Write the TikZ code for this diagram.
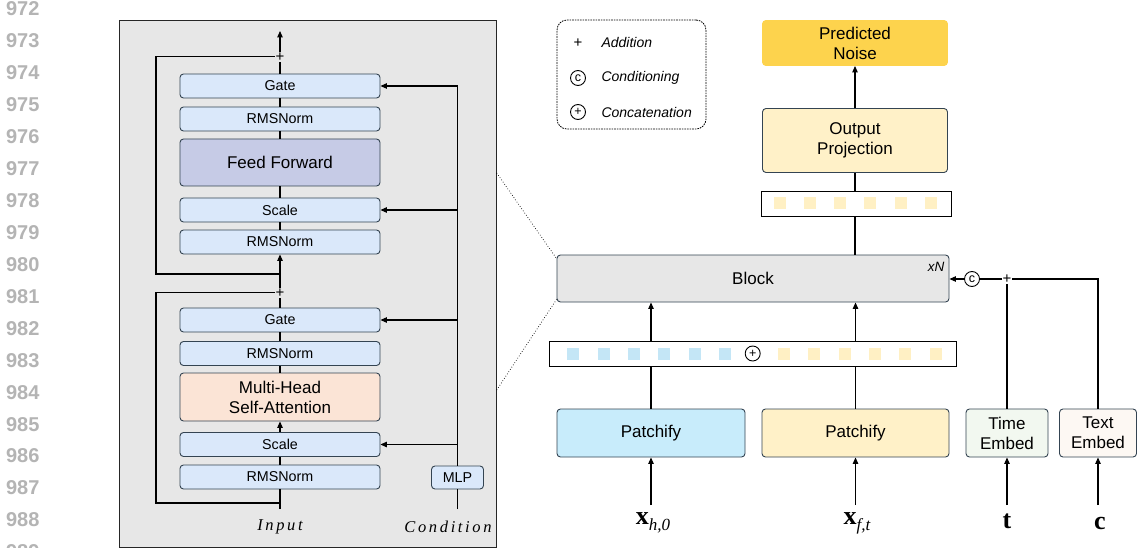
\documentclass[tikz,border=0pt]{standalone}
\usepackage{fontspec}
\setmainfont{Liberation Sans}
\newfontfamily\serifsp[LetterSpace=16]{Liberation Serif}
\newfontfamily\lsr{Liberation Serif}
\usetikzlibrary{arrows.meta}
\definecolor{bord}{RGB}{52,68,82}
\definecolor{lblue}{RGB}{218,232,250}
\definecolor{ffc}{RGB}{198,203,230}
\definecolor{peach}{RGB}{251,228,214}
\definecolor{gold}{RGB}{253,211,77}
\definecolor{ylw}{RGB}{255,241,200}
\definecolor{cyanl}{RGB}{200,236,251}
\definecolor{grn}{RGB}{242,248,240}
\definecolor{crm}{RGB}{253,248,243}
\definecolor{panelc}{RGB}{231,231,231}
\definecolor{sqb}{RGB}{196,230,246}
\definecolor{sqy}{RGB}{255,240,196}
\definecolor{lnum}{RGB}{180,180,180}
\newcommand{\vlab}[2]{{\lsr\bfseries\fontsize{26}{26}\selectfont #1}\ifx&#2&\else{\lsr\itshape\fontsize{17}{17}\selectfont\raisebox{-6pt}{#2}}\fi}
\tikzset{
  box/.style={draw=bord,line width=0.9pt,rounded corners=3.5pt,inner sep=0pt,align=center},
  sm/.style={box,fill=lblue,minimum width=200pt,minimum height=24pt,font=\fontsize{14.3}{16}\selectfont},
  big/.style={box,font=\fontsize{17}{20}\selectfont},
  ln/.style={line width=1.1pt},
  arr/.style={ln,-{Triangle[length=6.5pt,width=5.5pt]}},
  plusn/.style={inner sep=0.6pt,font=\fontsize{15}{15}\selectfont},
  sq/.style={minimum size=12pt,inner sep=0pt,draw=none},
  circ/.style={circle,draw,line width=0.9pt,minimum size=15pt,inner sep=0pt,font=\fontsize{12.5}{12.5}\selectfont},
  lab/.style={inner sep=0pt},
  io/.style={font=\serifsp\itshape\fontsize{16.5}{16.5}\selectfont},
  leg/.style={anchor=west,font=\itshape\fontsize{14}{16}\selectfont},
  dots/.style={line width=0.7pt,dotted}
}
\begin{document}
\begin{tikzpicture}[x=1pt,y=-1pt]
\clip (0,0) rectangle (1137,548);
\fill[white] (0,0) rectangle (1137,548);
% line numbers
\foreach \n in {972,...,989}{
  \pgfmathsetmacro{\yy}{41+(\n-973)*31.93}
  \node[anchor=east,text=lnum,font=\bfseries\fontsize{20}{20}\selectfont] (ln\n) at (43,\yy) {\n};
}
% ---------------- left panel
\node[draw=black!85,fill=panelc,line width=0.8pt,minimum width=377pt,minimum height=527pt,inner sep=0pt] (panel) at (307.5,283.5) {};
\node[sm] (gate1) at (280,86) {Gate};
\node[sm] (rms1a) at (280,119) {RMSNorm};
\node[big,fill=ffc,minimum width=200pt,minimum height=47pt] (ff) at (280,162.5) {Feed Forward};
\node[sm] (scale1) at (280,210) {Scale};
\node[sm] (rms1b) at (280,242) {RMSNorm};
\node[plusn] (plus1) at (280,56.7) {+};
\coordinate (out) at (280,31);
\node[sm] (gate2) at (280,320) {Gate};
\node[sm] (rms2a) at (280,353.5) {RMSNorm};
\node[big,fill=peach,minimum width=200pt,minimum height=48pt] (mhsa) at (280,397) {Multi-Head\\Self-Attention};
\node[sm] (scale2) at (280,444.5) {Scale};
\node[sm] (rms2b) at (280,477) {RMSNorm};
\node[plusn] (plus2) at (280,292.7) {+};
\coordinate (inp) at (280,509);
\node[sm,minimum width=52pt,minimum height=23pt] (mlp) at (457.5,477.5) {MLP};
\coordinate (cnd) at (457.5,509);
\node[io] (inputlab) at (280,527) {Input};
\node[io] (condlab) at (448,527) {Condition};
% main path
\draw[ln] (inp) -- (rms2b.south);
\draw[ln] (rms2b) -- (scale2);
\draw[arr] (scale2) -- (mhsa);
\draw[ln] (mhsa) -- (rms2a);
\draw[ln] (rms2a) -- (gate2);
\draw[ln] (gate2) -- (plus2);
\draw[arr] (plus2) -- (rms1b);
\draw[ln] (rms1b) -- (scale1);
\draw[ln] (scale1) -- (ff);
\draw[ln] (ff) -- (rms1a);
\draw[ln] (rms1a) -- (gate1);
\draw[ln] (gate1) -- (plus1);
\draw[arr] (plus1) -- (out);
% skip connections
\coordinate (j2) at (280,503);
\coordinate (s2) at (156,503);
\draw[ln] (j2) -- (s2) |- (plus2);
\coordinate (j1) at (280,274);
\coordinate (s1) at (156,274);
\draw[ln] (j1) -- (s1) |- (plus1);
% condition
\coordinate (ctop) at (457.5,86);
\draw[ln] (cnd) -- (mlp.south);
\draw[ln] (mlp.north) -- (ctop);
\draw[arr] (ctop) -- (gate1.east);
\draw[arr] (scale1.east -| ctop) -- (scale1.east);
\draw[arr] (gate2.east -| ctop) -- (gate2.east);
\draw[arr] (scale2.east -| ctop) -- (scale2.east);
% ---------------- legend
\node[draw,line width=0.8pt,dash pattern=on 1.6pt off 1pt,rounded corners=10pt,minimum width=149pt,minimum height=109pt,inner sep=0pt] (legend) at (631.5,74.5) {};
\node[font=\fontsize{15}{15}\selectfont] (lplus) at (578,43) {+};
\node[circ] (lcirc) at (578,78) {c};
\node[circ] (lcat) at (578,112) {+};
\node[leg] (tadd) at (598,43) {Addition};
\node[leg] (tcond) at (598,78) {Conditioning};
\node[leg] (tcat) at (598,112) {Concatenation};
% ---------------- right side
\node[big,draw=gold,fill=gold,minimum width=185pt,minimum height=45pt] (pn) at (855,43) {Predicted\\Noise};
\node[big,fill=ylw,minimum width=185pt,minimum height=64pt] (op) at (855,140.5) {Output\\Projection};
\node[big,fill=panelc,minimum width=392pt,minimum height=47pt] (block) at (753,278.5) {Block};
\node[font=\itshape\fontsize{13.5}{13.5}\selectfont] (xn) at (936,267) {xN};
\draw[arr] (op) -- (pn);
\draw[ln] (block.north -| op) -- (op.south);
\node[draw,fill=white,line width=0.8pt,minimum width=190pt,minimum height=25pt,inner sep=0pt] (stripo) at (856,203.5) {};
\foreach \xx [count=\i] in {780,810,840,870,901,931}
  \node[sq,fill=sqy] (oy\i) at (\xx,203) {};
\node[draw,fill=white,line width=0.8pt,minimum width=407pt,minimum height=25pt,inner sep=0pt] (strip) at (752.5,353.5) {};
\foreach \xx [count=\i] in {573,603.7,634,664,695,725}
  \node[sq,fill=sqb] (cb\i) at (\xx,353.5) {};
\foreach \xx [count=\i] in {784,814,845,875,905,936}
  \node[sq,fill=sqy] (cy\i) at (\xx,353.5) {};
\node[circ] (ccat) at (752.7,353.5) {+};
\node[big,fill=cyanl,minimum width=188pt,minimum height=48pt] (pL) at (651,433) {Patchify};
\node[big,fill=ylw,minimum width=187pt,minimum height=48pt] (pR) at (855.5,433) {Patchify};
\node[big,fill=grn,minimum width=82pt,minimum height=48pt] (tm) at (1007,433) {Time\\Embed};
\node[big,fill=crm,minimum width=77pt,minimum height=48pt] (te) at (1098,433) {Text\\Embed};
\draw[ln] (pL.north) -- (strip.south -| pL);
\draw[ln] (pR.north) -- (strip.south -| pR);
\draw[arr] (strip.north -| pL) -- (block.south -| pL);
\draw[arr] (strip.north -| pR) -- (block.south -| pR);
% labels
\node[lab] (xh) at (653,523) {\vlab{x}{h,0}};
\node[lab] (xf) at (857,523) {\vlab{x}{f,t}};
\node[lab] (tt) at (1007,521) {\vlab{t}{}};
\node[lab] (cc) at (1100,523) {\vlab{c}{}};
\coordinate (a1) at (651,505);
\coordinate (a2) at (855.5,505);
\coordinate (a3) at (1007,505);
\coordinate (a4) at (1098,505);
\draw[arr] (a1) -- (pL.south);
\draw[arr] (a2) -- (pR.south);
\draw[arr] (a3) -- (tm.south);
\draw[arr] (a4) -- (te.south);
% conditioning
\node[circ] (cond) at (972,279) {c};
\node[plusn] (pj) at (1007,279) {+};
\coordinate (tcorner) at (1098,279);
\draw[arr] (cond.west) -- (block.east |- cond);
\draw[ln] (cond.east) -- (pj);
\draw[ln] (pj) -- (tcorner) -- (te.north);
\draw[ln] (tm.north) -- (pj);
% dotted zoom lines
\coordinate (d1) at (496.7,173);
\coordinate (d2) at (496.7,390);
\draw[dots] (d1) -- ([yshift=-4pt]block.north west);
\draw[dots] (d2) -- ([yshift=3pt]block.south west);
\end{tikzpicture}
\end{document}
